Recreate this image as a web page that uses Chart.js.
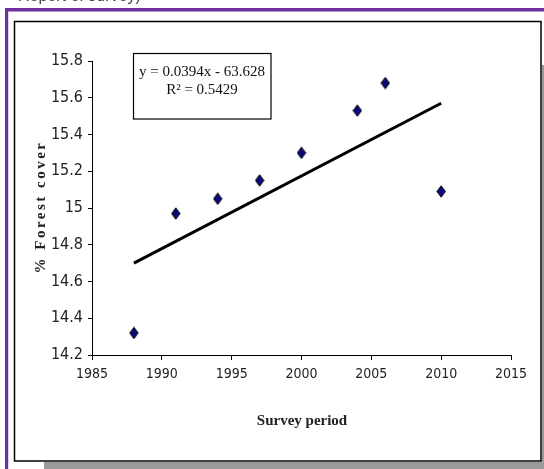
<!DOCTYPE html>
<html>
<head>
<meta charset="utf-8">
<script src="https://cdn.jsdelivr.net/npm/chart.js@4.4.1/dist/chart.umd.min.js"></script>
<style>
  html, body { margin: 0; padding: 0; background: #fff; }
  #chart { display: block; }
</style>
</head>
<body>
<canvas id="chart" width="544" height="469"></canvas>
<script>
// survey data
const surveyYears = [1988, 1991, 1994, 1997, 2000, 2004, 2006, 2010];
const forestCover = [14.32, 14.97, 15.05, 15.15, 15.30, 15.53, 15.68, 15.09];

// linear trend line end points (y = 0.0394x - 63.628)
const trendYears = [1988, 2010];
const trendValues = [14.70, 15.57];

const equationLines = ['y = 0.0394x - 63.628', 'R\u00B2 = 0.5429'];
const xTitle = 'Survey period';
const yTitle = '% Forest cover';

const tickFont = "'Liberation Sans Narrow', 'DejaVu Sans Condensed', sans-serif";
const serifFont = "'Liberation Serif', 'DejaVu Serif', serif";

// diamond marker, a little taller than wide
function makeDiamond() {
    const c = document.createElement('canvas');
    c.width = 10; c.height = 13;
    const g = c.getContext('2d');
    g.beginPath();
    g.moveTo(5, 0.8);
    g.lineTo(9.2, 6.5);
    g.lineTo(5, 12.2);
    g.lineTo(0.8, 6.5);
    g.closePath();
    g.fillStyle = '#0a0a78';
    g.fill();
    g.lineWidth = 1;
    g.strokeStyle = '#000';
    g.stroke();
    return c;
}

const framePlugin = {
    id: 'frame',
    beforeDraw(chart) {
        const ctx = chart.ctx;
        ctx.save();
        ctx.fillStyle = '#fff';
        ctx.fillRect(0, 0, chart.width, chart.height);
        // cropped caption line from the page above
        ctx.fillStyle = '#444';
        ctx.font = "16px 'Liberation Sans', sans-serif";
        ctx.textBaseline = 'alphabetic';
        ctx.fillText('Report of survey)', 18, 1);
        // purple page rule
        ctx.fillStyle = '#7030a0';
        ctx.fillRect(5, 8, 539, 3.5);
        ctx.fillRect(5, 8, 3.2, 461);
        // shadow
        ctx.fillStyle = '#9a9a9a';
        ctx.fillRect(44, 462, 500, 7);
        ctx.fillRect(542, 65, 2, 404);
        // black chart box
        ctx.strokeStyle = '#000';
        ctx.lineWidth = 1.5;
        ctx.strokeRect(14.5, 21.5, 526.5, 439.5);
        ctx.restore();
    },
    afterDraw(chart) {
        const ctx = chart.ctx;
        ctx.save();
        // equation box
        ctx.fillStyle = '#fff';
        ctx.fillRect(133, 53, 138, 66);
        ctx.strokeStyle = '#000';
        ctx.lineWidth = 1.2;
        ctx.strokeRect(133.5, 53.5, 137.5, 65.5);
        ctx.fillStyle = '#111';
        ctx.font = '15px ' + serifFont;
        ctx.textAlign = 'center';
        ctx.textBaseline = 'middle';
        ctx.fillText(equationLines[0], 202, 72);
        ctx.fillText(equationLines[1], 202, 90);
        // axis titles
        ctx.font = 'bold 15px ' + serifFont;
        ctx.fillStyle = '#222';
        ctx.fillText(xTitle, 302, 421);
        ctx.translate(41, 207);
        ctx.rotate(-Math.PI / 2);
        ctx.letterSpacing = '2.5px';
        ctx.fillText(yTitle, 0, 0);
        ctx.restore();
    }
};

new Chart(document.getElementById('chart'), {
    type: 'scatter',
    data: {
        datasets: [
            {
                label: 'Forest cover',
                data: surveyYears.map((yr, i) => ({ x: yr, y: forestCover[i] })),
                pointStyle: makeDiamond(),
                pointRadius: 6,
                showLine: false,
                order: 1
            },
            {
                label: 'Linear trend',
                type: 'line',
                data: trendYears.map((yr, i) => ({ x: yr, y: trendValues[i] })),
                borderColor: '#000',
                borderWidth: 3,
                pointRadius: 0,
                fill: false,
                order: 2
            }
        ]
    },
    options: {
        responsive: false,
        animation: false,
        devicePixelRatio: 1,
        layout: { padding: { left: 32, right: 33, top: 61, bottom: 74 } },
        plugins: {
            legend: { display: false },
            tooltip: { enabled: false }
        },
        scales: {
            x: {
                type: 'linear',
                min: 1985,
                max: 2015,
                afterFit: s => { s.height = 40; },
                ticks: {
                    stepSize: 5,
                    padding: 6,
                    color: '#222',
                    font: { family: tickFont, size: 14 },
                    maxRotation: 0,
                    autoSkip: false,
                    callback: v => String(v)
                },
                grid: { drawOnChartArea: false, tickLength: 5, color: '#000' },
                border: { color: '#000', width: 1 }
            },
            y: {
                min: 14.2,
                max: 15.8,
                afterFit: s => { s.width = 60; },
                ticks: {
                    stepSize: 0.2,
                    padding: 5,
                    color: '#222',
                    autoSkip: false,
                    font: { family: tickFont, size: 16 },
                    callback: v => String(Math.round(v * 10) / 10)
                },
                grid: { drawOnChartArea: false, tickLength: 4, color: '#000' },
                border: { color: '#000', width: 1 }
            }
        }
    },
    plugins: [framePlugin]
});
</script>
</body>
</html>
